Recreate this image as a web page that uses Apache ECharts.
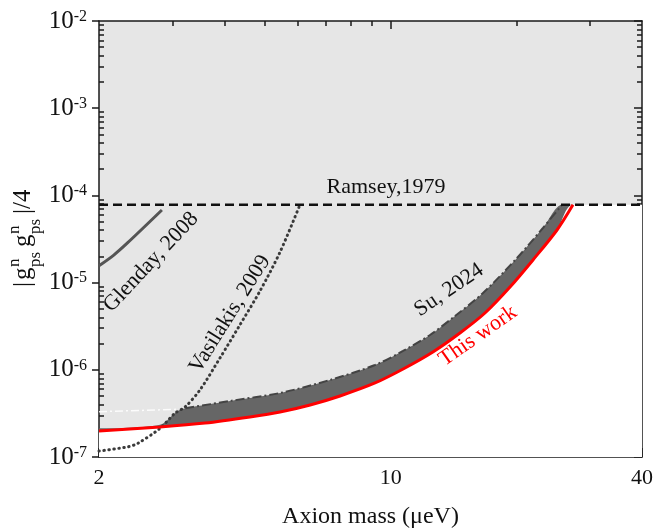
<!DOCTYPE html>
<html><head><meta charset="utf-8">
<script src="https://cdn.jsdelivr.net/npm/echarts@6/dist/echarts.min.js"></script>
<style>html,body{margin:0;padding:0;background:#fff}#c{width:654px;height:529px}</style>
</head><body><div id="c"></div>
<script>
// ---- data ----
const xMajorTicks = [2, 10, 40];
const xMinorTicks = [3, 4, 5, 6, 7, 8, 9, 20, 30];
const yMajorTicks = [1e-7, 1e-6, 1e-5, 1e-4, 1e-3, 1e-2];
const yMinorMantissas = [2, 3, 4, 5, 6, 7, 8, 9];
const yMinorDecades = [1e-7, 1e-6, 1e-5, 1e-4, 1e-3];

// This work (red)
const thisWorkX = [2.0, 2.8, 3.59, 4.6, 5.43, 6.41, 7.56, 9.17, 10.82, 12.62, 14.65, 16.82, 19.31, 21.92, 25.03, 27.33];
const thisWorkY = [1.99e-7, 2.21e-7, 2.45e-7, 2.88e-7, 3.28e-7, 3.95e-7, 5.01e-7, 7.06e-7, 1.05e-6, 1.6e-6, 2.64e-6, 4.48e-6, 8.9e-6, 1.82e-5, 4.01e-5, 7.8e-5];
// Su, 2024 (upper edge of dark band)
const suX = [2.0, 2.8, 3.07, 3.22, 4.12, 5.43, 7.15, 9.17, 10.7, 12.42, 14.26, 16.64, 20.07, 23.16, 25.73, 27.33];
const suY = [2.13e-7, 2.35e-7, 3.31e-7, 3.62e-7, 4.39e-7, 5.42e-7, 7.64e-7, 1.135e-6, 1.643e-6, 2.506e-6, 4.14e-6, 7.6e-6, 1.915e-5, 4.23e-5, 7.8e-5, 7.8e-5];
// faint extension of Su line at low mass
const suFaintX = [2.0, 3.07];
const suFaintY = [3.31e-7, 3.52e-7];
// Vasilakis, 2009
const vasX = [2.0, 2.35, 2.48, 2.8, 3.04, 3.22, 3.49, 3.9, 4.35, 4.86, 5.43, 6.06];
const vasY = [1.17e-7, 1.31e-7, 1.44e-7, 2.13e-7, 3.17e-7, 3.77e-7, 5.87e-7, 1.37e-6, 3.26e-6, 8.0e-6, 2.24e-5, 7.8e-5];
// Glenday, 2008
const glenX = [2.0, 2.17, 2.34, 2.83];
const glenY = [1.56e-5, 2.07e-5, 2.85e-5, 6.8e-5];
// Ramsey, 1979
const ramseyX = [2, 40];
const ramseyY = [7.8e-5, 7.8e-5];

// ---- build ----
const zip = (xs, ys) => xs.map((x, i) => [x, ys[i]]);
const yMinorTicks = [];
yMinorDecades.forEach(d => yMinorMantissas.forEach(m => yMinorTicks.push(m * d)));

const FONT = 'Liberation Serif';
const AX = '#1a1a1a';
const lineSt = { color: AX, width: 1.5 };
const chart = echarts.init(document.getElementById('c'), null, { renderer: 'canvas' });

const xBase = { type: 'log', logBase: 10, min: 2, max: 40, splitLine: { show: false },
  axisLabel: { show: false }, axisTick: { show: false }, axisLine: { show: false, onZero: false } };
const yBase = { type: 'log', logBase: 10, min: 1e-7, max: 1e-2, splitLine: { show: false },
  axisLabel: { show: false }, axisTick: { show: false }, axisLine: { show: false, onZero: false } };

// white region under "This work" and under Ramsey line to the right
const whiteBoundary = zip(thisWorkX, thisWorkY).concat([[ramseyX[1], ramseyY[1]]]);
const suLineStart = 3, suLineEnd = suX.length - 1;

const option = {
  animation: false,
  backgroundColor: '#ffffff',
  grid: { left: 99, right: 12, top: 21, bottom: 72, show: true, backgroundColor: '#e6e6e6', borderWidth: 0,
          containLabel: false, outerBoundsMode: 'none' },
  xAxis: [
    Object.assign({}, xBase, { position: 'bottom',
      axisLine: { show: true, onZero: false, lineStyle: lineSt },
      axisTick: { show: true, inside: true, length: 9, customValues: xMajorTicks, lineStyle: lineSt },
      axisLabel: { show: true, customValues: xMajorTicks, fontFamily: FONT, fontSize: 22, color: '#111', margin: 10 },
      name: 'Axion mass (μeV)', nameLocation: 'middle', nameGap: 48,
      nameTextStyle: { fontFamily: FONT, fontSize: 24, color: '#111' } }),
    Object.assign({}, xBase, { position: 'bottom',
      axisTick: { show: true, inside: true, length: 5, customValues: xMinorTicks, lineStyle: lineSt } }),
    Object.assign({}, xBase, { position: 'top',
      axisLine: { show: true, onZero: false, lineStyle: lineSt },
      axisTick: { show: true, inside: true, length: 8, customValues: [10], lineStyle: lineSt } }),
    Object.assign({}, xBase, { position: 'top',
      axisTick: { show: true, inside: true, length: 5, customValues: xMinorTicks, lineStyle: lineSt } })
  ],
  yAxis: [
    Object.assign({}, yBase, { position: 'left',
      axisLine: { show: true, onZero: false, lineStyle: lineSt },
      axisTick: { show: true, inside: false, length: 7, customValues: yMajorTicks, lineStyle: lineSt },
      axisLabel: { show: true, customValues: yMajorTicks, margin: 12,
        formatter: v => '{b|10}{s|' + Math.round(Math.log10(v)) + '}',
        rich: { b: { fontFamily: FONT, fontSize: 25, color: '#111' },
                s: { fontFamily: FONT, fontSize: 16, color: '#111', verticalAlign: 'top', padding: [0, 0, 8, 0] } } } }),
    Object.assign({}, yBase, { position: 'left',
      axisTick: { show: true, inside: true, length: 5, customValues: yMinorTicks, lineStyle: lineSt } }),
    Object.assign({}, yBase, { position: 'right',
      axisLine: { show: true, onZero: false, lineStyle: lineSt },
      axisTick: { show: true, inside: true, length: 8, customValues: yMajorTicks, lineStyle: lineSt } }),
    Object.assign({}, yBase, { position: 'right',
      axisTick: { show: true, inside: true, length: 5, customValues: yMinorTicks, lineStyle: lineSt } })
  ],
  series: [
    { name: 'Su, 2024 band', type: 'line', data: zip(suX, suY), symbol: 'none', smooth: 0.3,
      lineStyle: { width: 0, opacity: 0 }, areaStyle: { color: '#666666', opacity: 1, origin: 'start' }, z: 2 },
    { name: 'allowed', type: 'line', data: whiteBoundary, symbol: 'none', smooth: 0.3,
      lineStyle: { width: 0, opacity: 0 }, areaStyle: { color: '#ffffff', opacity: 1, origin: 'start' }, z: 3 },
    { name: 'Su faint', type: 'line', data: zip(suFaintX, suFaintY), symbol: 'none',
      lineStyle: { color: 'rgba(255,255,255,0.85)', width: 1.5, type: [8, 3, 2, 3] }, z: 4 },
    { name: 'Su, 2024', type: 'line', data: zip(suX.slice(suLineStart, suLineEnd), suY.slice(suLineStart, suLineEnd)), symbol: 'none', smooth: 0.3,
      lineStyle: { color: '#444', width: 2, type: [9, 3, 2, 3] }, z: 5 },
    { name: 'Vasilakis, 2009', type: 'line', data: zip(vasX, vasY), symbol: 'none', smooth: 0.3,
      lineStyle: { color: '#3a3a3a', width: 3, type: [0.5, 4.5], cap: 'round' }, z: 6 },
    { name: 'Glenday, 2008', type: 'line', data: zip(glenX, glenY), symbol: 'none', smooth: 0.3,
      lineStyle: { color: '#555', width: 3 }, z: 6 },
    { name: 'Ramsey, 1979', type: 'line', data: zip(ramseyX, ramseyY), symbol: 'none',
      lineStyle: { color: '#111', width: 2.5, type: [9, 5] }, z: 7 },
    { name: 'This work', type: 'line', data: zip(thisWorkX, thisWorkY), symbol: 'none', smooth: 0.3,
      lineStyle: { color: '#ff0000', width: 3 }, z: 8 }
  ],
  graphic: [
    { type: 'group', x: 30, y: 287, rotation: Math.PI / 2, children: [
      { type: 'text', x: 0, y: -7, style: { text: '|', fontFamily: FONT, fontSize: 25, fill: '#111', align: 'left', verticalAlign: 'middle' } },
      { type: 'text', x: 7, y: -7, style: { text: 'g', fontFamily: FONT, fontSize: 25, fill: '#111', align: 'left', verticalAlign: 'middle' } },
      { type: 'text', x: 20, y: -15, style: { text: 'n', fontFamily: FONT, fontSize: 17, fill: '#111', align: 'left', verticalAlign: 'middle' } },
      { type: 'text', x: 20, y: 6, style: { text: 'ps', fontFamily: FONT, fontSize: 17, fill: '#111', align: 'left', verticalAlign: 'middle' } },
      { type: 'text', x: 40, y: -7, style: { text: 'g', fontFamily: FONT, fontSize: 25, fill: '#111', align: 'left', verticalAlign: 'middle' } },
      { type: 'text', x: 53, y: -15, style: { text: 'n', fontFamily: FONT, fontSize: 17, fill: '#111', align: 'left', verticalAlign: 'middle' } },
      { type: 'text', x: 53, y: 6, style: { text: 'ps', fontFamily: FONT, fontSize: 17, fill: '#111', align: 'left', verticalAlign: 'middle' } },
      { type: 'text', x: 73, y: -7, style: { text: '|/4', fontFamily: FONT, fontSize: 25, fill: '#111', align: 'left', verticalAlign: 'middle' } }
    ] },
    { type: 'text', x: 386, y: 187, z: 100, style: { text: 'Ramsey,1979', fontFamily: FONT, fontSize: 22, fill: '#111', align: 'center', verticalAlign: 'middle' } },
    { type: 'text', x: 151, y: 262, rotation: 47 * Math.PI / 180, z: 100, style: { text: 'Glenday, 2008', fontFamily: FONT, fontSize: 22, fill: '#111', align: 'center', verticalAlign: 'middle' } },
    { type: 'text', x: 230, y: 314, rotation: 58 * Math.PI / 180, z: 100, style: { text: 'Vasilakis, 2009', fontFamily: FONT, fontSize: 22, fill: '#111', align: 'center', verticalAlign: 'middle' } },
    { type: 'text', x: 449, y: 290, rotation: 34 * Math.PI / 180, z: 100, style: { text: 'Su, 2024', fontFamily: FONT, fontSize: 22, fill: '#111', align: 'center', verticalAlign: 'middle' } },
    { type: 'text', x: 478, y: 336, rotation: 35 * Math.PI / 180, z: 100, style: { text: 'This work', fontFamily: FONT, fontSize: 22, fill: '#ff0000', align: 'center', verticalAlign: 'middle' } }
  ]
};
chart.setOption(option);
</script>
</body></html>
